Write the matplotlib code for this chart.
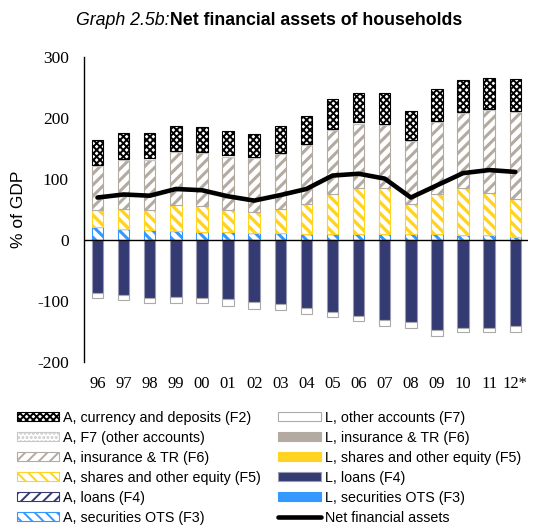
import numpy as np
import matplotlib
matplotlib.use("Agg")
import matplotlib.pyplot as plt

# ---------------------------------------------------------
# Data (% of GDP)
# ---------------------------------------------------------

years = ["96", "97", "98", "99", "00", "01", "02", "03", "04",
         "05", "06", "07", "08", "09", "10", "11", "12*"]

# assets (stacked upwards from 0)
a_sec = [22, 19, 17, 15, 14, 14, 12, 12, 11, 11, 11, 11, 11, 11, 8, 8, 5]
a_loans = [0, 0, 0, 0, 0, 0, 0, 0, 0, 0, 0, 0, 0, 0, 0, 0, 0]
a_shares = [28, 32, 33, 43, 42, 36, 34, 39, 49, 65, 75, 75, 49, 64, 77, 70, 63]
a_ins = [72, 80, 82, 87, 87, 87, 88, 90, 96, 105, 105, 103, 103, 118, 123, 135, 142]
a_oth = [2, 2, 2, 2, 2, 2, 2, 2, 2, 2, 2, 2, 2, 2, 2, 2, 2]
a_cur = [40, 42, 42, 40, 40, 40, 38, 44, 45, 49, 49, 50, 47, 52, 52, 50, 52]

# liabilities (stacked downwards from 0)
l_sec = [0, 0, 0, 0, 0, 0, 0, 0, 0, 0, 0, 0, 0, 0, 0, 0, 0]
l_shares = [0, 0, 0, 0, 0, 0, 0, 0, 0, 0, 0, 0, 0, 0, 0, 0, 0]
l_ins = [0, 0, 0, 0, 0, 0, 0, 0, 0, 0, 0, 0, 0, 0, 0, 0, 0]
l_loans = [-86, -89, -94, -93, -94, -97, -101, -105, -111, -118, -124,
           -131, -134, -147, -143, -143, -141]
l_oth = [-9, -9, -9, -9, -9, -10, -11, -10, -9, -8, -8, -10, -9, -9, -8, -7, -9]

net = [70, 75, 73, 84, 82, 72, 65, 74, 84, 106, 109, 101, 70, 90, 110, 115, 112]

# ---------------------------------------------------------
# Styles
# ---------------------------------------------------------

navy = "#343a72"
blue = "#3399ff"
yellow = "#ffd320"
taupe = "#b3aaa1"

sans = "Liberation Sans"
serif = "Liberation Serif"

fig = plt.figure(figsize=(5.43, 5.29), dpi=100)
ax = fig.add_axes([0.155, 0.315, 0.818, 0.577])

x = np.arange(len(years))
w = 0.44

handles = {}

# assets
bottom = np.zeros(len(years))
asset_series = [
    ("A, securities OTS (F3)", a_sec, dict(facecolor="white", edgecolor=blue, hatch="\\\\\\"), 2.2),
    ("A, loans (F4)", a_loans, dict(facecolor="white", edgecolor=navy, hatch="///"), 2.2),
    ("A, shares and other equity (F5)", a_shares, dict(facecolor="white", edgecolor=yellow, hatch="\\\\\\"), 2.4),
    ("A, insurance & TR (F6)", a_ins, dict(facecolor="white", edgecolor=taupe, hatch="///"), 2.2),
    ("A, F7 (other accounts)", a_oth, dict(facecolor="white", edgecolor="#c8c8c8", hatch="...."), 1.0),
    ("A, currency and deposits (F2)", a_cur, dict(facecolor="white", edgecolor="black", hatch="xxxxx"), 1.4),
]
for label, vals, style, hlw in asset_series:
    plt.rcParams["hatch.linewidth"] = hlw
    vals = np.array(vals, dtype=float)
    b = ax.bar(x, vals, w, bottom=bottom, linewidth=0.8, label=label, **style)
    handles[label] = b
    bottom += vals

# liabilities
bottom = np.zeros(len(years))
liab_series = [
    ("L, securities OTS (F3)", l_sec, dict(facecolor=blue, edgecolor=blue)),
    ("L, shares and other equity (F5)", l_shares, dict(facecolor=yellow, edgecolor=yellow)),
    ("L, insurance & TR (F6)", l_ins, dict(facecolor=taupe, edgecolor=taupe)),
    ("L, loans (F4)", l_loans, dict(facecolor=navy, edgecolor="#9a9cb5")),
    ("L, other accounts (F7)", l_oth, dict(facecolor="white", edgecolor="#aaaaaa")),
]
for label, vals, style in liab_series:
    vals = np.array(vals, dtype=float)
    b = ax.bar(x, vals, w, bottom=bottom, linewidth=0.8, label=label, **style)
    handles[label] = b
    bottom += vals

line, = ax.plot(x, net, color="black", lw=3.3, solid_capstyle="round",
                label="Net financial assets")
handles["Net financial assets"] = line

# ---------------------------------------------------------
# Axes
# ---------------------------------------------------------

ax.axhline(0, color="black", lw=1.0)
ax.set_xlim(-0.51, 16.5)
ax.set_ylim(-200, 300)
ax.set_yticks([-200, -100, 0, 100, 200, 300])
ax.set_yticklabels(["-200", "-100", "0", "100", "200", "300"],
                   fontfamily=serif, fontsize=12.5)
ax.set_xticks(x)
ax.set_xticklabels(years, fontfamily=serif, fontsize=12)
ax.tick_params(axis="y", length=0, pad=11)
ax.tick_params(axis="x", length=0, pad=10)

for s in ["top", "right", "bottom"]:
    ax.spines[s].set_visible(False)
ax.spines["left"].set_linewidth(1.0)

ax.set_ylabel("% of GDP", fontfamily=sans, fontsize=12.5, labelpad=8)

# title: italic part + bold part
fig.text(0.313, 0.962, "Graph 2.5b:", fontfamily=sans, fontstyle="italic",
         fontsize=12.8, ha="right", va="center")
fig.text(0.313, 0.962, "Net financial assets of households", fontfamily=sans,
         fontweight="bold", fontsize=12.8, ha="left", va="center")

# legend: left column assets, right column liabilities
order = ["A, currency and deposits (F2)", "A, F7 (other accounts)",
         "A, insurance & TR (F6)", "A, shares and other equity (F5)",
         "A, loans (F4)", "A, securities OTS (F3)",
         "L, other accounts (F7)", "L, insurance & TR (F6)",
         "L, shares and other equity (F5)", "L, loans (F4)",
         "L, securities OTS (F3)", "Net financial assets"]

fig.legend([handles[k] for k in order], order, ncol=2, frameon=False,
           loc="upper left", bbox_to_anchor=(0.02, 0.234),
           prop={"family": sans, "size": 10.3},
           handlelength=3.0, handleheight=0.6, handletextpad=0.25,
           columnspacing=1.2, labelspacing=0.42, borderaxespad=0)

fig.savefig("out.png", dpi=100)
